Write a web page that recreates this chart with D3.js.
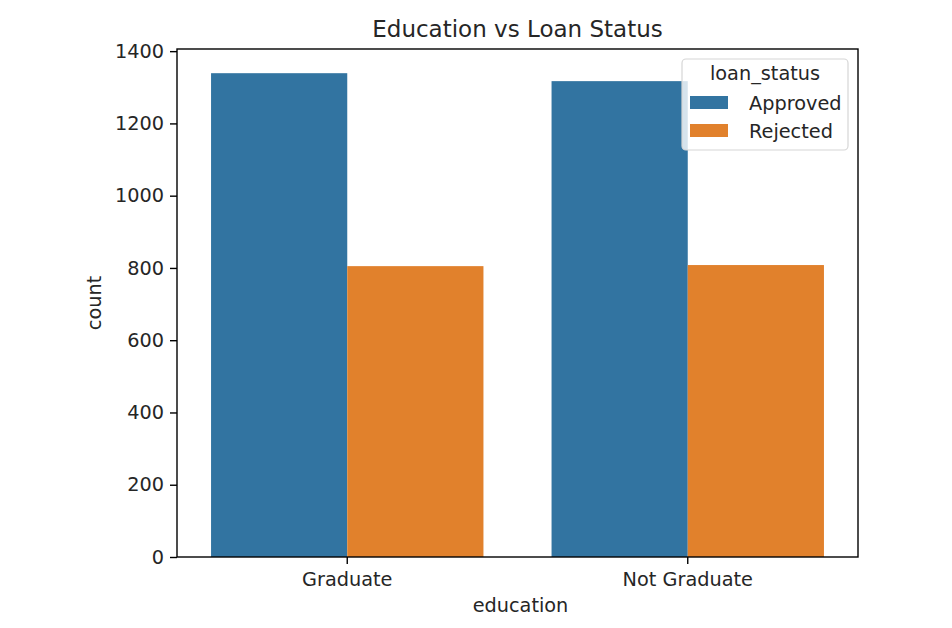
<!DOCTYPE html>
<html><head><meta charset="utf-8">
<script src="https://cdn.jsdelivr.net/npm/d3@7"></script>
<style>body{margin:0;background:#fff}svg{display:block;font-family:"DejaVu Sans",sans-serif}</style>
</head><body><svg id="c" width="952" height="628"></svg>
<script>
const categories = ["Graduate", "Not Graduate"];
const statuses = ["Approved", "Rejected"];
const approved = [1339, 1317];
const rejected = [805, 808];
const yTicks = [0, 200, 400, 600, 800, 1000, 1200, 1400];
const colors = ["#3274a1", "#e1812c"];

const svg = d3.select("#c");
const m = {l: 177, r: 858, t: 49, b: 557};
const x = d3.scaleBand().domain(categories).range([m.l, m.r]).paddingInner(0.2).paddingOuter(0.1);
const xs = d3.scaleBand().domain(statuses).range([0, x.bandwidth()]);
const ymax = d3.max(approved.concat(rejected)) * 1.05;
const y = d3.scaleLinear().domain([0, ymax]).range([m.b, m.t]);

const data = [];
categories.forEach((c, i) => {
  data.push({c, s: "Approved", v: approved[i]});
  data.push({c, s: "Rejected", v: rejected[i]});
});
svg.append("g").selectAll("rect").data(data).join("rect")
  .attr("x", d => x(d.c) + xs(d.s))
  .attr("width", xs.bandwidth())
  .attr("y", d => y(d.v))
  .attr("height", d => y(0) - y(d.v))
  .attr("fill", d => colors[statuses.indexOf(d.s)]);

const FS = 19.3;
const yAxis = svg.append("g").attr("transform", `translate(${m.l},0)`)
  .call(d3.axisLeft(y).tickValues(yTicks).tickSize(7).tickPadding(6).tickFormat(d3.format("d")));
const xAxis = svg.append("g").attr("transform", `translate(0,${m.b})`)
  .call(d3.axisBottom(x).tickSize(7).tickPadding(8));
[yAxis, xAxis].forEach(a => {
  a.select(".domain").remove();
  a.selectAll("text").attr("font-size", FS).attr("fill", "#262626").attr("font-family", "DejaVu Sans");
  a.selectAll("line").attr("stroke", "#000").attr("stroke-width", 1.4);
});
svg.append("rect").attr("x", m.l).attr("y", m.t).attr("width", m.r - m.l).attr("height", m.b - m.t)
  .attr("fill", "none").attr("stroke", "#000").attr("stroke-width", 1.4);

svg.append("text").attr("x", (m.l + m.r) / 2).attr("y", 37).attr("text-anchor", "middle")
  .attr("font-size", 23).attr("fill", "#262626").text("Education vs Loan Status");
svg.append("text").attr("x", (m.l + m.r) / 2 + 3).attr("y", 612).attr("text-anchor", "middle")
  .attr("font-size", FS).attr("fill", "#262626").text("education");
svg.append("text").attr("transform", `translate(101,${(m.t + m.b) / 2}) rotate(-90)`).attr("text-anchor", "middle")
  .attr("font-size", FS).attr("fill", "#262626").text("count");

const lg = svg.append("g");
lg.append("rect").attr("x", 682).attr("y", 59).attr("width", 166).attr("height", 91).attr("rx", 4)
  .attr("fill", "#fff").attr("fill-opacity", 0.8).attr("stroke", "#d6d6d6").attr("stroke-width", 1.2);
lg.append("text").attr("x", 765).attr("y", 80).attr("text-anchor", "middle").attr("font-size", FS).attr("fill", "#262626").text("loan_status");
statuses.forEach((s, i) => {
  lg.append("rect").attr("x", 690).attr("y", 96 + i * 28).attr("width", 38).attr("height", 13).attr("fill", colors[i]);
  lg.append("text").attr("x", 749).attr("y", 110 + i * 28).attr("font-size", FS).attr("fill", "#262626").text(s);
});
</script></body></html>
